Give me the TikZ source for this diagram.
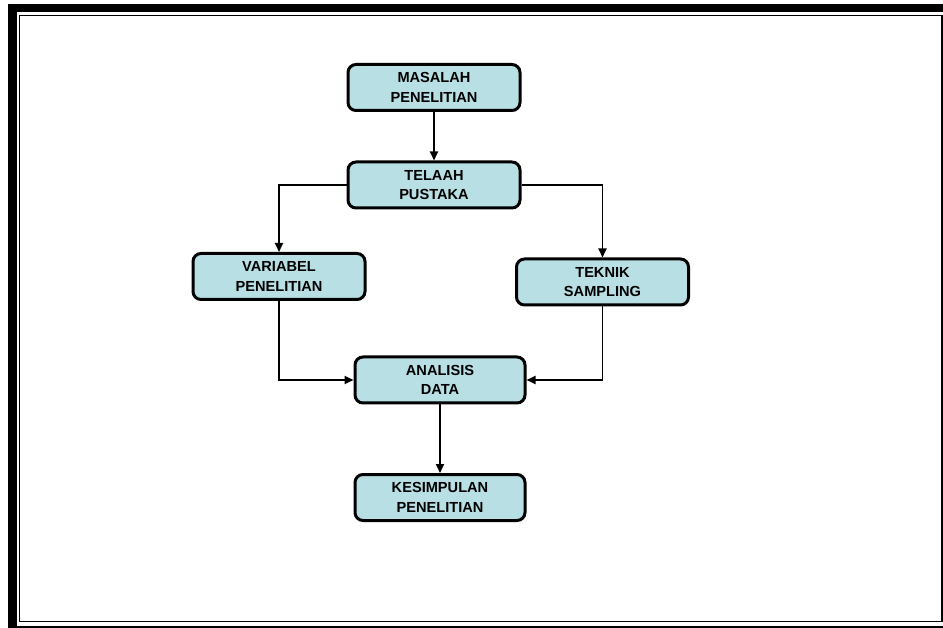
\documentclass[tikz,border=0pt]{standalone}
\usepackage{fontspec}
\setmainfont{Liberation Sans}
\usepackage[HTML]{xcolor}
\usetikzlibrary{positioning, arrows, arrows.meta}

\definecolor{boxfill}{HTML}{B8DFE3}

\begin{document}
\begin{tikzpicture}[x=1pt,y=-1pt,
  stepbox/.style={draw=black, line width=3pt, fill=boxfill, rounded corners=8pt,
    minimum width=172pt, minimum height=46pt, align=center, inner sep=0pt,
    font=\fontsize{14.6}{19.5}\selectfont\bfseries},
  link/.style={-{Triangle[length=9pt,width=8pt]}, line width=1.8pt}]
\useasboundingbox (0,0) rectangle (943,628);

% frame
\draw[line width=8.5pt] (960,8) -- (12.5,8) -- (12.5,640);
\draw[line width=4.5pt] (12.5,628) -- (960,628);
\draw[line width=1.8pt] (19.5,15.5) rectangle (942,621.5);

% nodes (steps)
\node[stepbox] (masalah) at (434,87.5) {MASALAH\\PENELITIAN};
\node[stepbox] (telaah) at (434,185) {TELAAH\\PUSTAKA};
\node[stepbox] (variabel) at (279,276.5) {VARIABEL\\PENELITIAN};
\node[stepbox] (teknik) at (602.5,282) {TEKNIK\\SAMPLING};
\node[stepbox,minimum width=170pt] (analisis) at (440,380) {ANALISIS\\DATA};
\node[stepbox,minimum width=170pt] (kesimpulan) at (440,497.5) {KESIMPULAN\\PENELITIAN};

% arrows
\draw[link] (masalah) -- (telaah);
\draw[link] (telaah.west) -| (variabel.north);
\draw[link] (telaah.east) -| (teknik.north);
\draw[link] (variabel.south) |- (analisis.west);
\draw[link] (teknik.south) |- (analisis.east);
\draw[link] (analisis.south -| kesimpulan.north) -- (kesimpulan.north);
\end{tikzpicture}
\end{document}
